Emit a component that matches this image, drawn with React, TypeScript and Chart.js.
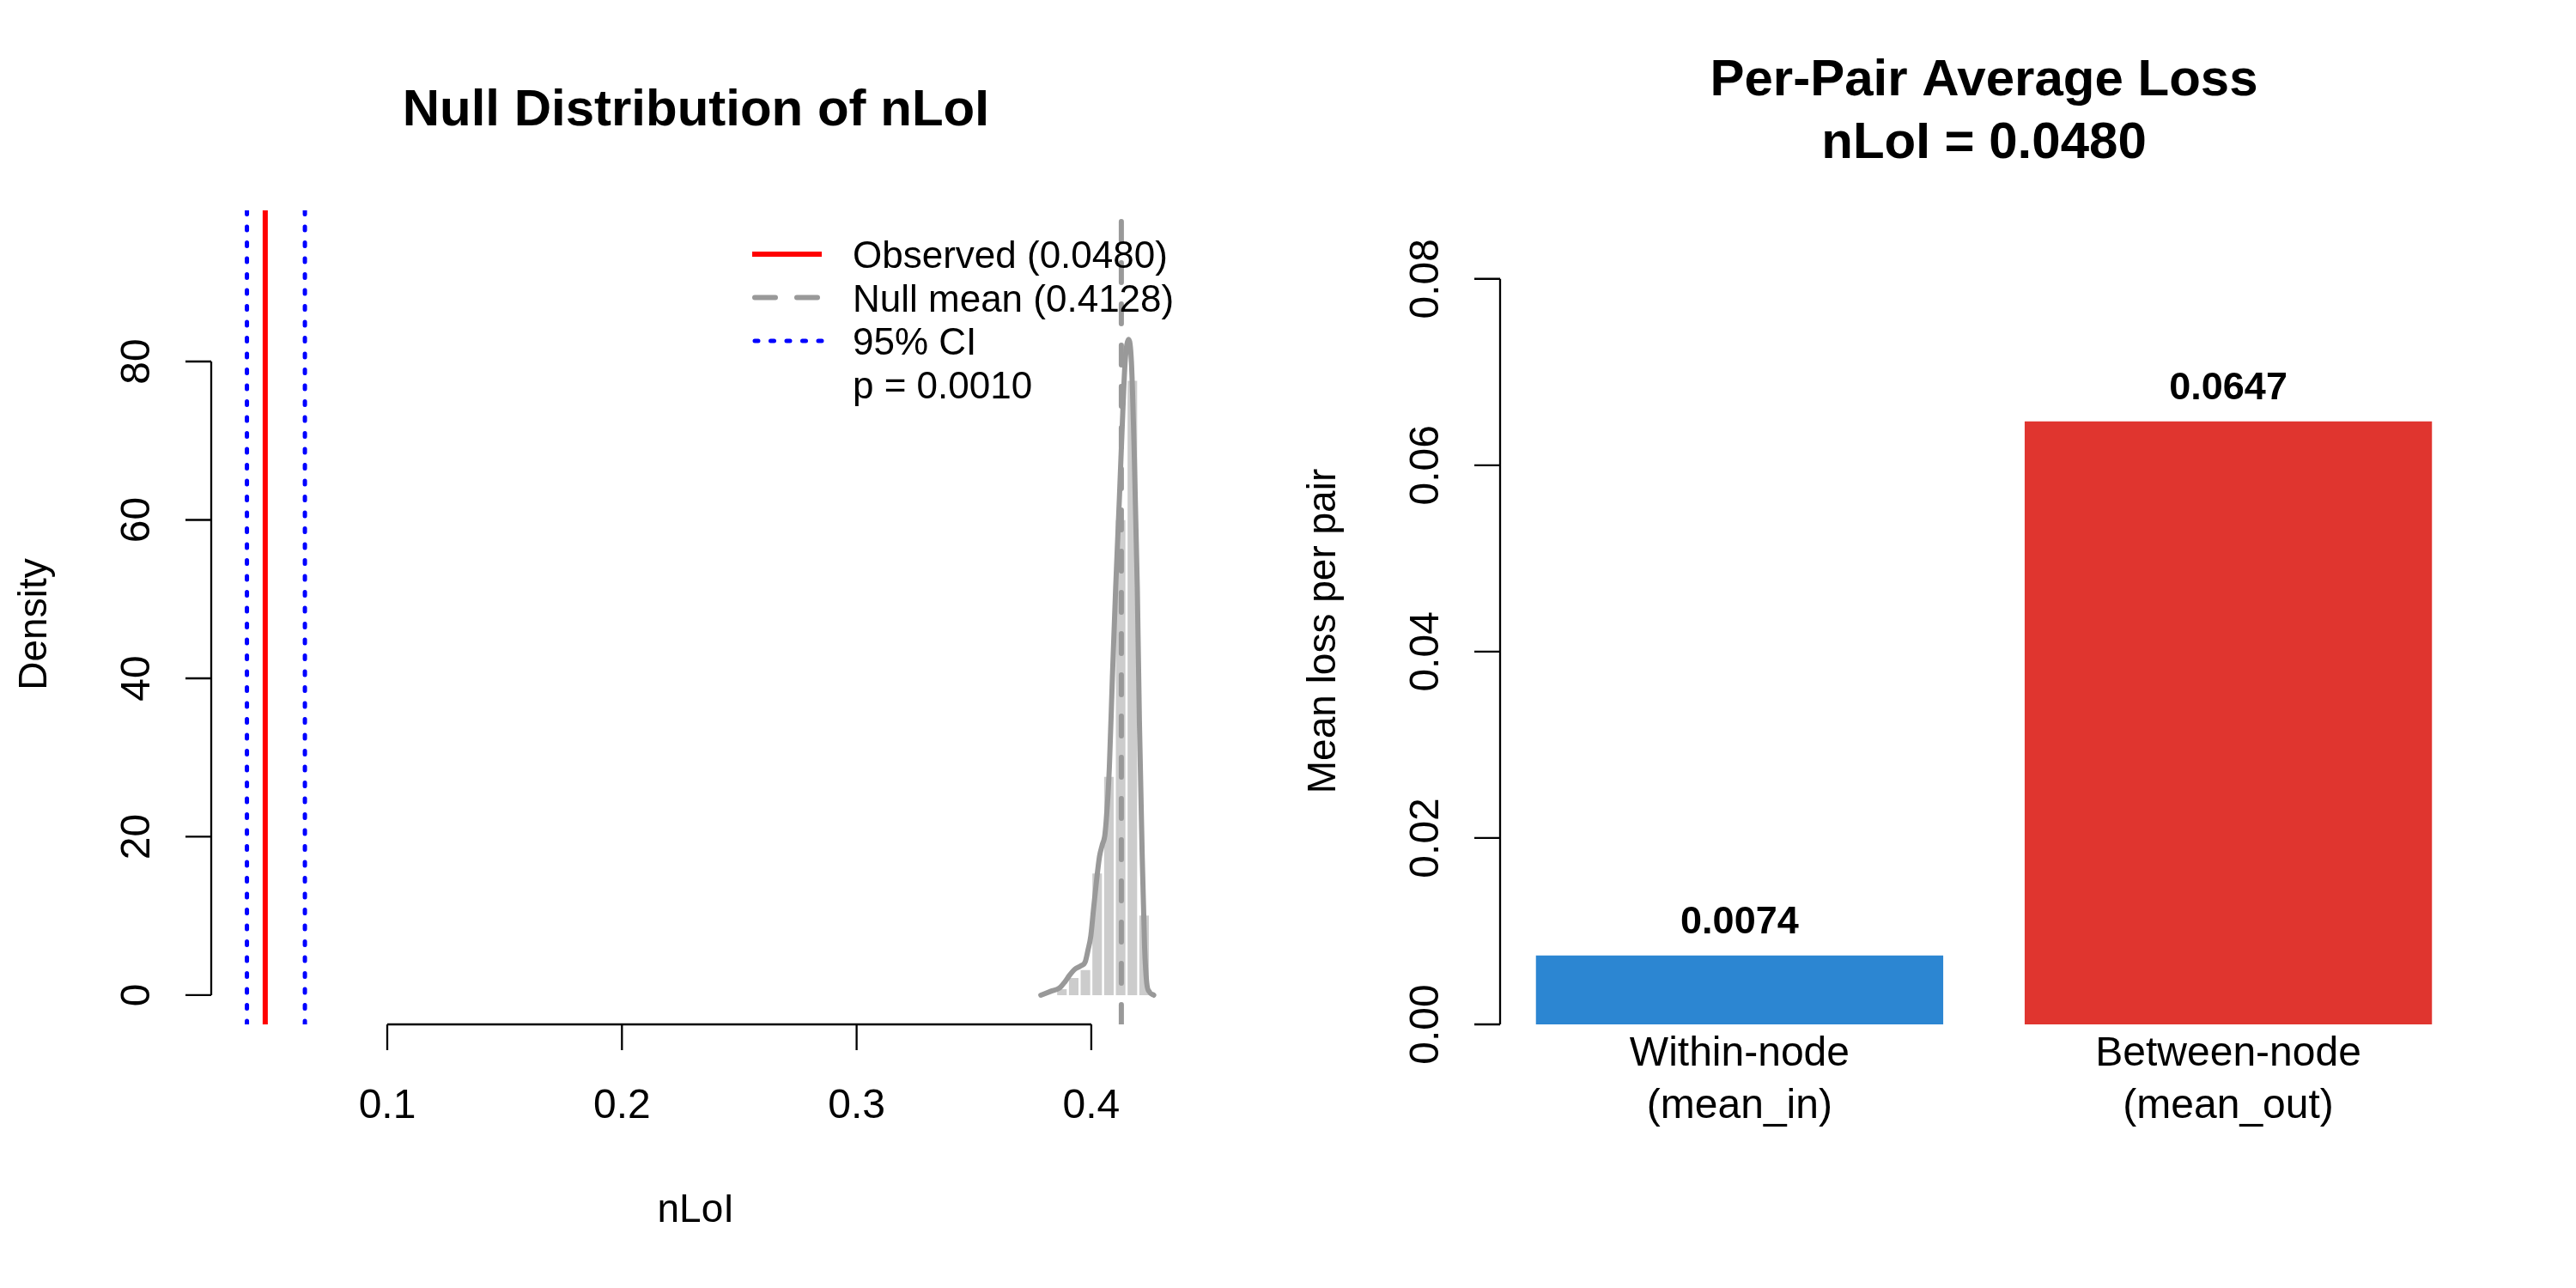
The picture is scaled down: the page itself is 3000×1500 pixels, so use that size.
import React, { useRef, useEffect } from 'react';
import { Chart, registerables } from 'chart.js';

Chart.register(...registerables);

const FONT = '"Liberation Sans", Arial, Helvetica, sans-serif';

// ---- left panel: null distribution of nLoI ----
const observedNLoI = 0.048;
const nullMean = 0.4128;
const ciBounds = [0.0402, 0.0649];
const pValue = 0.001;
const histBinCenters = [0.3875, 0.3925, 0.3975, 0.4025, 0.4075, 0.4125, 0.4175, 0.4225];
const histDensity = [0.9, 2.3, 3.3, 15.5, 27.7, 60.1, 77.7, 10.2];
const densityX = [
    0.3785, 0.3828, 0.3864, 0.3888, 0.3907, 0.3931, 0.3955, 0.3974, 0.3986, 0.3998,
    0.4010, 0.4035, 0.4047, 0.4059, 0.4077, 0.4090, 0.4104, 0.4120, 0.4135, 0.4144,
    0.4159, 0.4171, 0.4183, 0.4196, 0.4205, 0.4217, 0.4227, 0.4236, 0.4248, 0.4266,
];
const densityY = [
    0.0, 0.5, 0.9, 1.7, 2.5, 3.3, 3.7, 4.2, 5.7, 7.5,
    11.0, 17.5, 19.0, 20.5, 28.8, 40.2, 51.5, 62.9, 74.2, 79.9,
    82.8, 79.9, 68.5, 51.5, 34.5, 17.5, 6.2, 1.6, 0.4, 0.0,
];
const nullXTicks = [0.1, 0.2, 0.3, 0.4];
const nullYTicks = [0, 20, 40, 60, 80];
const NULL_X_MIN = 0.02499;
const NULL_X_MAX = 0.4379;
const NULL_Y_MIN = -3.69;
const NULL_Y_MAX = 99.08;

// ---- right panel: per-pair average loss ----
const pairCategories = [['Within-node', '(mean_in)'], ['Between-node', '(mean_out)']];
const pairValues = [0.0074, 0.0647];
const pairColors = ['#2C86D2', '#E0352F'];
const pairYTicks = [0, 0.02, 0.04, 0.06, 0.08];
const pairYTickLabels = ['0.00', '0.02', '0.04', '0.06', '0.08'];
const PAIR_X_MIN = 0.112;
const PAIR_X_MAX = 2.488;
const PAIR_Y_MAX = 0.08735;

// barplot convention: width 1, space 0.2
const barCenter = (i: number) => 0.2 + i * 1.2 + 0.5;

function drawYAxis(ctx: CanvasRenderingContext2D, chart: Chart, ticks: number[], labels: string[], title: string, titleShift: number) {
    const y = chart.scales.y;
    const area = chart.chartArea;
    const x0 = area.left;
    const px = ticks.map(t => y.getPixelForValue(t));
    ctx.save();
    ctx.strokeStyle = '#000';
    ctx.lineWidth = 2.3;
    ctx.beginPath();
    ctx.moveTo(x0, px[0]);
    ctx.lineTo(x0, px[px.length - 1]);
    px.forEach(p => {
        ctx.moveTo(x0, p);
        ctx.lineTo(x0 - 30, p);
    });
    ctx.stroke();
    ctx.fillStyle = '#000';
    ctx.font = `48px ${FONT}`;
    ctx.textAlign = 'center';
    ctx.textBaseline = 'alphabetic';
    px.forEach((p, i) => {
        ctx.save();
        ctx.translate(x0 - 72, p);
        ctx.rotate(-Math.PI / 2);
        ctx.fillText(labels[i], 0, 0);
        ctx.restore();
    });
    ctx.font = `46px ${FONT}`;
    ctx.save();
    ctx.translate(x0 - 192, (area.top + area.bottom) / 2 + titleShift);
    ctx.rotate(-Math.PI / 2);
    ctx.fillText(title, 0, 0);
    ctx.restore();
    ctx.restore();
}

const NullDistributionChart: React.FC = () => {
    const chartRef = useRef<HTMLCanvasElement | null>(null);

    useEffect(() => {
        if (!chartRef.current) return;
        const ctx = chartRef.current.getContext('2d');
        if (!ctx) return;

        const vline = (x: number) => [{ x, y: NULL_Y_MIN }, { x, y: NULL_Y_MAX }];
        const legendItems = [
            { label: `Observed (${observedNLoI.toFixed(4)})`, color: '#FF0000', width: 6, dash: [] as number[] },
            { label: `Null mean (${nullMean.toFixed(4)})`, color: '#999999', width: 6, dash: [24, 25] },
            { label: '95% CI', color: '#0000FF', width: 5, dash: [4, 14.5] },
            { label: `p = ${pValue.toFixed(4)}`, color: null, width: 0, dash: [] },
        ];

        const chart = new Chart(ctx, {
            type: 'bar',
            data: {
                datasets: [
                    {
                        type: 'bar',
                        data: histBinCenters.map((x, i) => ({ x, y: histDensity[i] })),
                        backgroundColor: '#CCCCCC',
                        borderColor: '#FFFFFF',
                        borderWidth: 1.6,
                        barPercentage: 1,
                        categoryPercentage: 1,
                        order: 5,
                    },
                    {
                        type: 'line',
                        data: densityX.map((x, i) => ({ x, y: densityY[i] })),
                        borderColor: '#999999',
                        borderWidth: 6,
                        pointRadius: 0,
                        cubicInterpolationMode: 'monotone',
                        borderCapStyle: 'round',
                        borderJoinStyle: 'round',
                        order: 4,
                    },
                    {
                        type: 'line',
                        data: vline(nullMean),
                        borderColor: '#999999',
                        borderWidth: 6,
                        borderDash: [23, 25],
                        borderCapStyle: 'round',
                        pointRadius: 0,
                        order: 3,
                    },
                    ...ciBounds.map(b => ({
                        type: 'line' as const,
                        data: vline(b),
                        borderColor: '#0000FF',
                        borderWidth: 5,
                        borderDash: [4, 14.5],
                        borderCapStyle: 'round' as const,
                        pointRadius: 0,
                        order: 2,
                    })),
                    {
                        type: 'line',
                        data: vline(observedNLoI),
                        borderColor: '#FF0000',
                        borderWidth: 6,
                        pointRadius: 0,
                        order: 1,
                    },
                ],
            },
            options: {
                animation: false,
                responsive: true,
                maintainAspectRatio: false,
                devicePixelRatio: 1,
                layout: { padding: { left: 246, right: 125.5, top: 245, bottom: 307 } },
                plugins: { legend: { display: false }, tooltip: { enabled: false } },
                scales: {
                    x: {
                        type: 'linear',
                        min: NULL_X_MIN,
                        max: NULL_X_MAX,
                        display: false,
                        offset: false,
                        afterBuildTicks: (s: any) => { s.ticks = nullXTicks.map(v => ({ value: v })); },
                    },
                    y: { type: 'linear', min: NULL_Y_MIN, max: NULL_Y_MAX, display: false, beginAtZero: false },
                },
            },
            plugins: [{
                id: 'rStyleNull',
                afterDraw(c: Chart) {
                    const g = c.ctx;
                    const area = c.chartArea;
                    const xs = c.scales.x;
                    drawYAxis(g, c, nullYTicks, nullYTicks.map(String), 'Density', 8);
                    // x axis
                    const px = nullXTicks.map(t => xs.getPixelForValue(t));
                    const yb = area.bottom;
                    g.save();
                    g.strokeStyle = '#000';
                    g.lineWidth = 2.3;
                    g.beginPath();
                    g.moveTo(px[0], yb);
                    g.lineTo(px[px.length - 1], yb);
                    px.forEach(p => { g.moveTo(p, yb); g.lineTo(p, yb + 30); });
                    g.stroke();
                    g.fillStyle = '#000';
                    g.textAlign = 'center';
                    g.textBaseline = 'alphabetic';
                    g.font = `48px ${FONT}`;
                    px.forEach((p, i) => g.fillText(String(nullXTicks[i]), p, 1302));
                    g.font = `46px ${FONT}`;
                    g.fillText('nLoI', (area.left + area.right) / 2, 1423);
                    g.font = `bold 60px ${FONT}`;
                    g.fillText('Null Distribution of nLoI', (area.left + area.right) / 2, 146);
                    // legend
                    g.font = `44px ${FONT}`;
                    g.textAlign = 'left';
                    legendItems.forEach((it, i) => {
                        const base = 312 + i * 50.5;
                        if (it.color) {
                            g.save();
                            g.strokeStyle = it.color;
                            g.lineWidth = it.width;
                            g.lineCap = it.dash.length ? 'round' : 'butt';
                            g.setLineDash(it.dash);
                            g.beginPath();
                            g.moveTo(it.dash.length ? 879 : 876, base - 16);
                            g.lineTo(957, base - 16);
                            g.stroke();
                            g.restore();
                        }
                        g.fillText(it.label, 993, base);
                    });
                    g.restore();
                },
            }],
        } as any);

        return () => chart.destroy();
    }, []);

    return (
        <div style={{ position: 'relative', width: 1500, height: 1500 }}>
            <canvas ref={chartRef} />
        </div>
    );
};

const PairLossChart: React.FC = () => {
    const chartRef = useRef<HTMLCanvasElement | null>(null);

    useEffect(() => {
        if (!chartRef.current) return;
        const ctx = chartRef.current.getContext('2d');
        if (!ctx) return;

        const chart = new Chart(ctx, {
            type: 'bar',
            data: {
                datasets: [{
                    data: pairValues.map((v, i) => ({ x: barCenter(i), y: v })),
                    backgroundColor: pairColors,
                    borderWidth: 0,
                    barPercentage: 1 / 1.2,
                    categoryPercentage: 1,
                }],
            },
            options: {
                animation: false,
                responsive: true,
                maintainAspectRatio: false,
                devicePixelRatio: 1,
                layout: { padding: { left: 247, right: 126, top: 245, bottom: 307 } },
                plugins: { legend: { display: false }, tooltip: { enabled: false } },
                scales: {
                    x: {
                        type: 'linear',
                        min: PAIR_X_MIN,
                        max: PAIR_X_MAX,
                        display: false,
                        offset: false,
                        afterBuildTicks: (s: any) => { s.ticks = pairValues.map((_, i) => ({ value: barCenter(i) })); },
                    },
                    y: { type: 'linear', min: 0, max: PAIR_Y_MAX, display: false },
                },
            },
            plugins: [{
                id: 'rStyleBars',
                afterDraw(c: Chart) {
                    const g = c.ctx;
                    const area = c.chartArea;
                    drawYAxis(g, c, pairYTicks, pairYTickLabels, 'Mean loss per pair', 16);
                    const bars = c.getDatasetMeta(0).data as any[];
                    g.save();
                    g.fillStyle = '#000';
                    g.textAlign = 'center';
                    g.textBaseline = 'alphabetic';
                    g.font = `bold 45px ${FONT}`;
                    bars.forEach((b, i) => g.fillText(pairValues[i].toFixed(4), b.x, b.y - 26));
                    g.font = `48px ${FONT}`;
                    bars.forEach((b, i) => {
                        g.fillText(pairCategories[i][0], b.x, 1241);
                        g.fillText(pairCategories[i][1], b.x, 1302);
                    });
                    g.font = `bold 60px ${FONT}`;
                    const cx = (area.left + area.right) / 2;
                    g.fillText('Per-Pair Average Loss', cx, 111);
                    g.fillText(`nLoI = ${observedNLoI.toFixed(4)}`, cx, 184);
                    g.restore();
                },
            }],
        } as any);

        return () => chart.destroy();
    }, []);

    return (
        <div style={{ position: 'relative', width: 1500, height: 1500 }}>
            <canvas ref={chartRef} />
        </div>
    );
};

export default function App() {
    return (
        <div style={{ position: 'absolute', left: 0, top: 0, width: 3000, height: 1500, display: 'flex', background: '#FFFFFF' }}>
            <NullDistributionChart />
            <PairLossChart />
        </div>
    );
}
